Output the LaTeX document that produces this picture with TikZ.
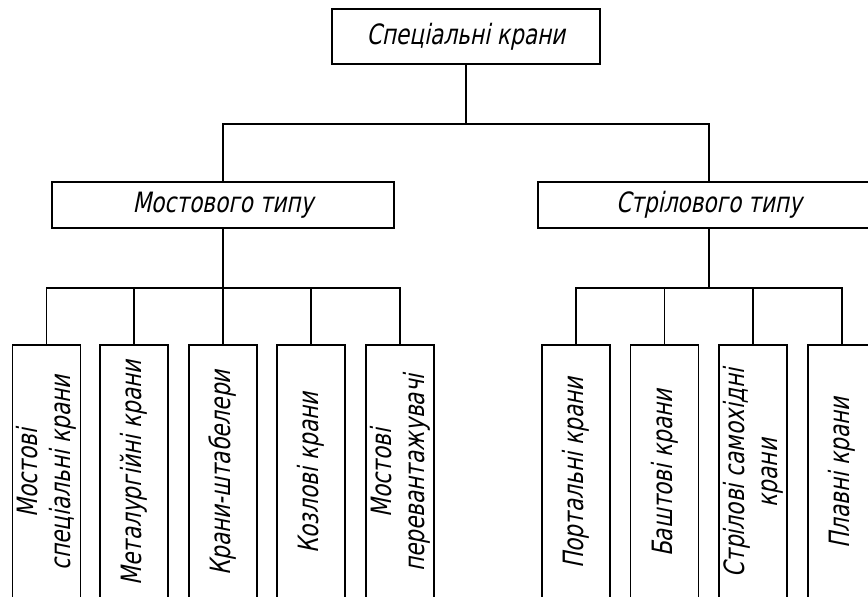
\documentclass[tikz,border=0pt]{standalone}
\usepackage{fontspec}
\newfontfamily\gost{DejaVu Sans Condensed}[FakeSlant=0.2,FakeStretch=0.86]
\usepackage{tikz}
\usetikzlibrary{calc, positioning}

\tikzset{
  box/.style={draw, line width=1.6pt, rectangle, inner sep=0pt, align=center},
  topbox/.style={box, minimum width=268pt, minimum height=55pt, font=\gost\fontsize{28}{30}\selectfont},
  midbox/.style={box, minimum width=342pt, minimum height=46pt, font=\gost\fontsize{28}{30}\selectfont},
  %повернуті блоки: east дивиться вгору
  lowbox/.style={box, rotate=90, minimum width=256pt, minimum height=68pt, font=\gost\fontsize{28}{33}\selectfont},
  link/.style={line width=1.6pt},
}

\begin{document}
\begin{tikzpicture}[x=1pt,y=1pt]
            \useasboundingbox (0,0) rectangle (868,597);
            \node[topbox] (root) at (466,560.5) {Спеціальні крани};
            \node[midbox] (bridge) at (223,392) {Мостового типу}; %мостові
            \node[midbox] (boom) at (709,392) {Стрілового типу}; %стрілові
            \node[lowbox] (b1) at (46.5,124) {Мостові\\спеціальні крани};
            \node[lowbox] (b2) at (134,124) {Металургійні крани};
            \node[lowbox] (b3) at (223,124) {Крани-штабелери};
            \node[lowbox] (b4) at (311,124) {Козлові крани};
            \node[lowbox] (b5) at (400,124) {Мостові\\перевантажувачі};
            \node[lowbox] (j1) at (576,124) {Портальні крани};
            \node[lowbox] (j2) at (664.5,124) {Баштові крани};
            \node[lowbox] (j3) at (753,124) {Стрілові самохідні\\крани};
            \node[lowbox] (j4) at (842,124) {Плавні крани};
            \draw[link] (root.south) --++(0,-59) -| (bridge.north);
            \draw[link] (root.south) --++(0,-59) -| (boom.north);
            \foreach \n in {b1,b2,b3,b4,b5}
                \draw[link] (bridge.south) --++(0,-59) -| (\n.east);
            \foreach \n in {j1,j2,j3,j4}
                \draw[link] (boom.south) --++(0,-59) -| (\n.east);
        \end{tikzpicture}
\end{document}
